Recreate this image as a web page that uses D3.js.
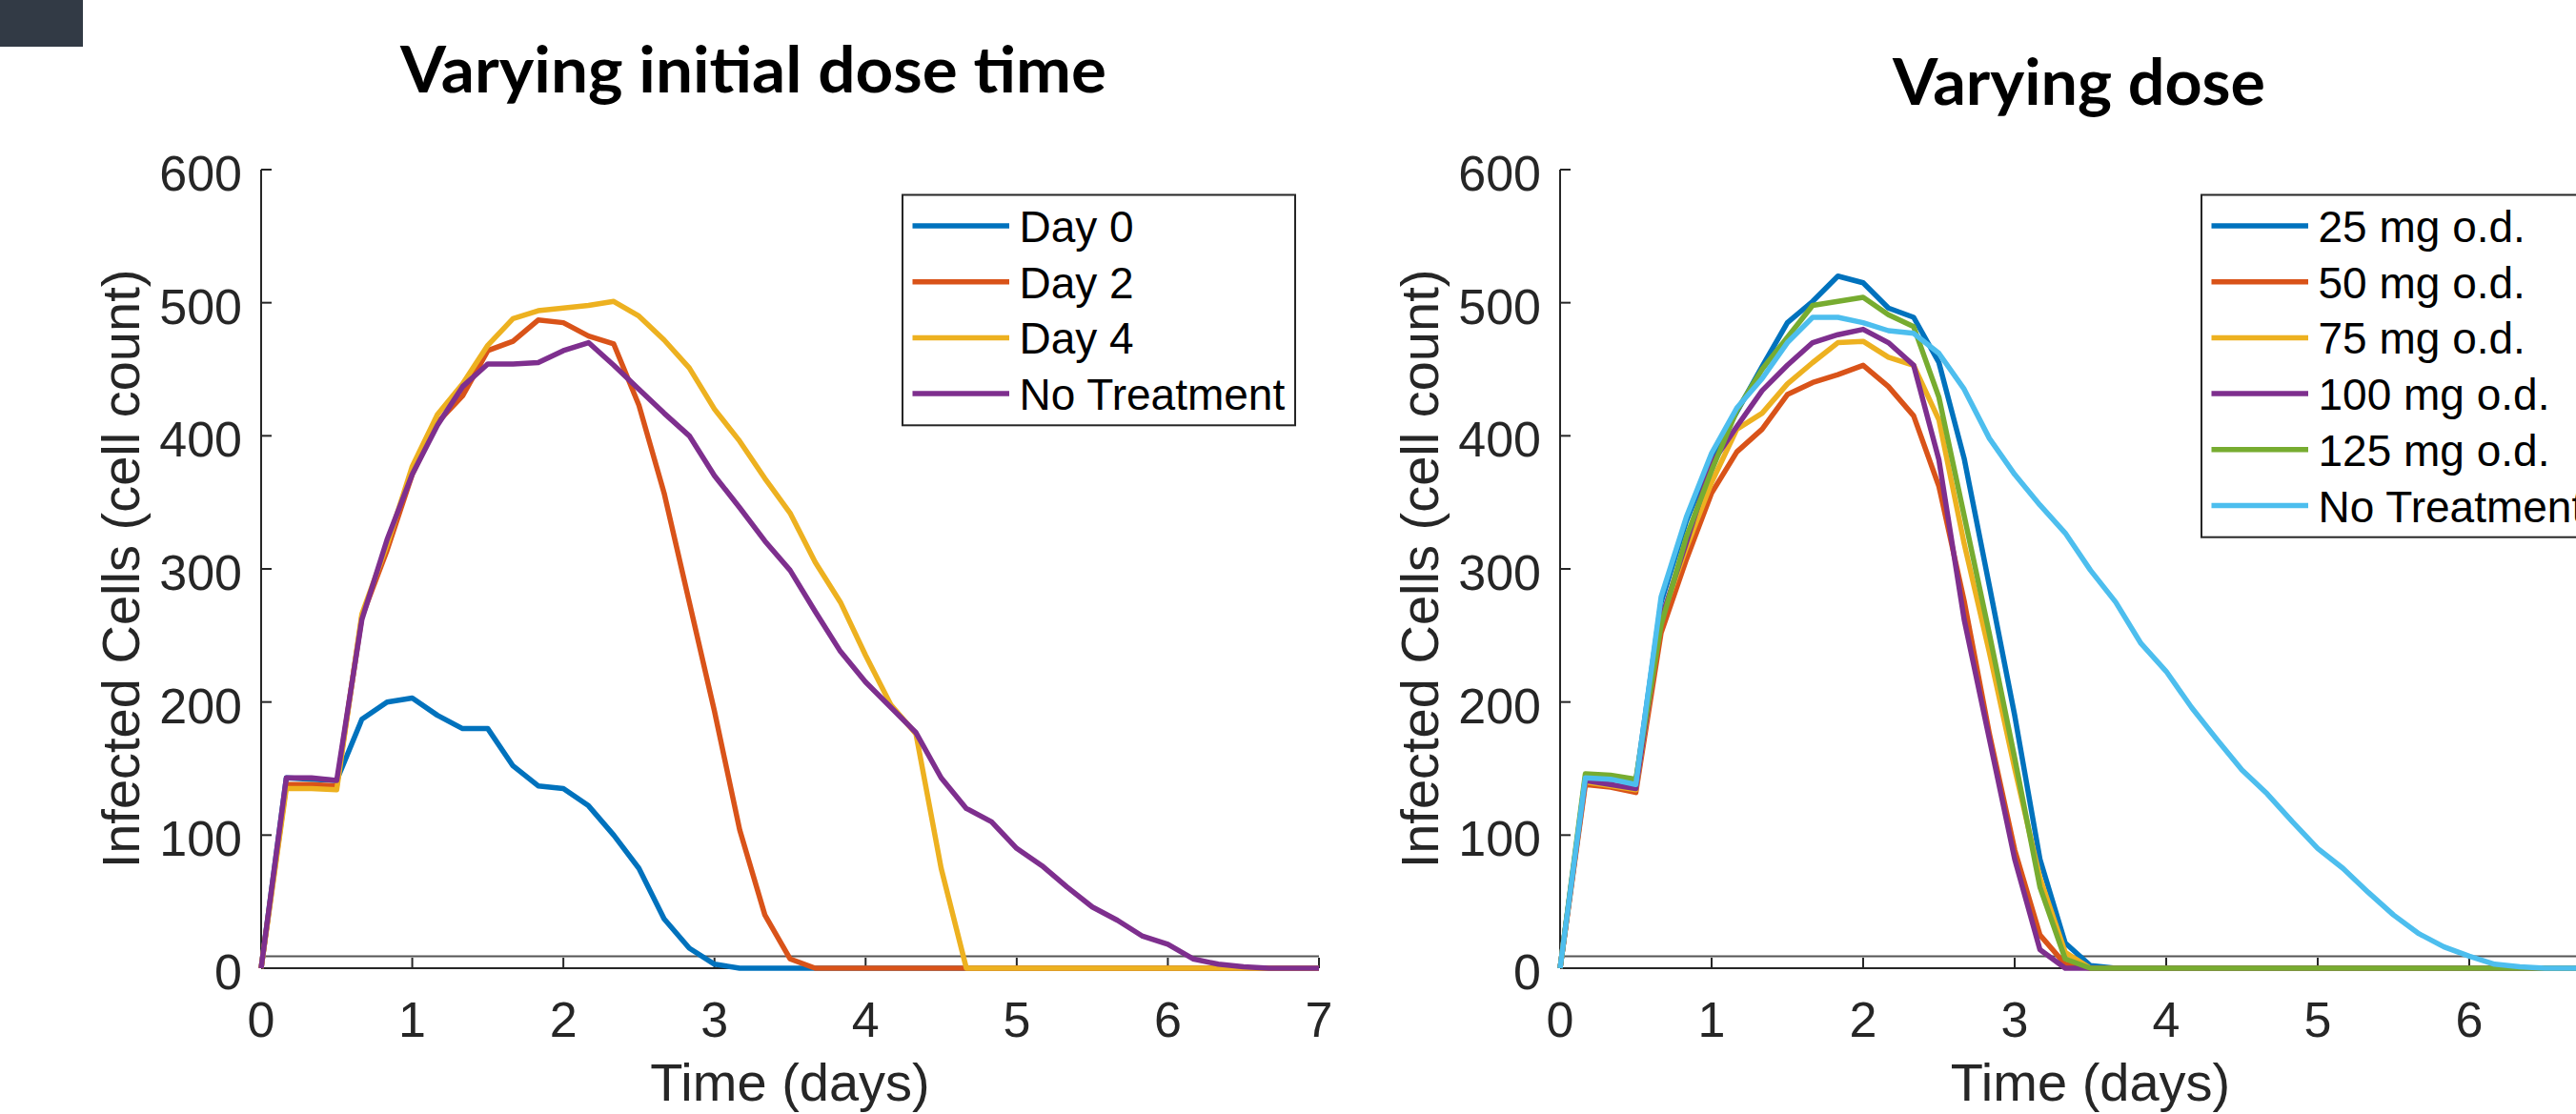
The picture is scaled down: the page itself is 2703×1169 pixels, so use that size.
<!DOCTYPE html>
<html><head><meta charset="utf-8">
<script src="https://cdn.jsdelivr.net/npm/d3@7"></script>
<style>html,body{margin:0;padding:0;background:#fff;overflow:hidden}</style>
</head><body><svg id="c" width="2703" height="1169"></svg>
<script>
// ---- data ----
const timeDays = [0,1/6,2/6,3/6,4/6,5/6,1,7/6,8/6,9/6,10/6,11/6,2,13/6,14/6,15/6,16/6,17/6,3,19/6,20/6,21/6,22/6,23/6,4,25/6,26/6,27/6,28/6,29/6,5,31/6,32/6,33/6,34/6,35/6,6,37/6,38/6,39/6,40/6,41/6,7];
const xTickValues = [0,1,2,3,4,5,6,7];
const yTickValues = [0,100,200,300,400,500,600];
const referenceLevel = 9;

const leftTitle = "Varying initial dose time";
const rightTitle = "Varying dose";
const xLabel = "Time (days)";
const yLabel = "Infected Cells (cell count)";

const leftNames = ["Day 0","Day 2","Day 4","No Treatment"];
const day0 = [0,143,142,141,187,200,203,190,180,180,152,137,135,122,100,75,37,15,3,0,0,0,0,0,0,0,0,0,0,0,0,0,0,0,0,0,0,0,0,0,0,0,0];
const day2 = [0,138,138,137,264,314,371,410,430,464,471,487,485,475,469,423,357,275,193,104,40,7,0,0,0,0,0,0,0,0,0,0,0,0,0,0,0,0,0,0,0,0,0];
const day4 = [0,135,135,134,266,318,377,416,439,468,488,494,496,498,501,490,472,451,420,396,368,342,305,275,235,198,176,75,0,0,0,0,0,0,0,0,0,0,0,0,0,0,0];
const noTreatLeft = [0,143,143,141,262,322,371,408,437,454,454,455,464,470,453,435,417,400,370,346,321,299,268,238,215,196,177,143,120,110,90,77,61,46,36,24,18,7,3,1,0,0,0];

const rightNames = ["25 mg o.d.","50 mg o.d.","75 mg o.d.","100 mg o.d.","125 mg o.d.","No Treatment"];
const dose25 = [0,143,142,140,275,336,384,418,452,485,501,520,515,496,489,455,383,287,190,82,19,2,0,0,0,0,0,0,0,0,0,0,0,0,0,0,0,0,0,0,0,0,0];
const dose50 = [0,138,136,132,252,307,357,388,405,431,440,446,453,437,415,362,276,176,89,25,3,0,0,0,0,0,0,0,0,0,0,0,0,0,0,0,0,0,0,0,0,0,0];
const dose75 = [0,140,137,134,262,316,365,405,417,439,455,470,471,459,453,412,319,237,150,68,12,0,0,0,0,0,0,0,0,0,0,0,0,0,0,0,0,0,0,0,0,0,0];
const dose100 = [0,141,138,135,262,320,379,407,434,453,470,476,480,470,453,382,262,172,82,14,0,0,0,0,0,0,0,0,0,0,0,0,0,0,0,0,0,0,0,0,0,0,0];
const dose125 = [0,146,145,142,258,324,374,419,450,474,498,501,504,491,482,429,340,251,158,61,7,0,0,0,0,0,0,0,0,0,0,0,0,0,0,0,0,0,0,0,0,0,0];
const noTreatRight = [0,143,142,138,279,339,387,421,443,470,489,489,485,479,477,462,435,398,371,348,327,299,275,244,223,196,172,149,131,110,90,75,57,40,26,16,9,3,1,0,0,0,0];

const palette = ["#0072BD","#D95319","#EDB120","#7E2F8E","#77AC30","#4DBEEE"];

// ---- drawing ----
const svg = d3.select("#c");
svg.append("rect").attr("x",0).attr("y",0).attr("width",2703).attr("height",1169).attr("fill","#fff");
svg.append("rect").attr("x",0).attr("y",0).attr("width",87).attr("height",49).attr("fill","#323a45");

const FONT = "'Liberation Sans', Arial, Helvetica, sans-serif";
const AXC = "#262626";

function panel(cfg){
  const x = d3.scaleLinear().domain([0,7]).range([cfg.x0, cfg.x1]);
  const y = d3.scaleLinear().domain([0,600]).range([1016,178]);
  const g = svg.append("g");

  // title
  g.append("text").attr("x",cfg.titleX).attr("y",cfg.titleY)
    .attr("text-anchor","middle").attr("font-family","Lato, 'Open Sans', sans-serif")
    .attr("font-weight",700).attr("font-size",67).attr("fill","#000")
    .attr("textLength",cfg.titleLen).attr("lengthAdjust","spacingAndGlyphs")
    .text(cfg.title);

  // reference line
  g.append("line").attr("x1",x(0)).attr("x2",x(7)).attr("y1",y(referenceLevel)).attr("y2",y(referenceLevel))
    .attr("stroke","#555").attr("stroke-width",2);

  // axes lines
  g.append("line").attr("x1",x(0)).attr("x2",x(7)).attr("y1",y(0)).attr("y2",y(0)).attr("stroke",AXC).attr("stroke-width",2);
  g.append("line").attr("x1",x(0)).attr("x2",x(0)).attr("y1",y(0)).attr("y2",y(600)).attr("stroke",AXC).attr("stroke-width",2);

  // ticks
  g.selectAll(".yt").data(yTickValues).enter().append("line")
    .attr("x1",x(0)).attr("x2",x(0)+11).attr("y1",d=>y(d)).attr("y2",d=>y(d)).attr("stroke",AXC).attr("stroke-width",2);
  g.selectAll(".xt").data(xTickValues).enter().append("line")
    .attr("x1",d=>x(d)).attr("x2",d=>x(d)).attr("y1",y(0)).attr("y2",y(0)-11).attr("stroke",AXC).attr("stroke-width",2);

  // tick labels
  g.selectAll(".yl").data(yTickValues).enter().append("text")
    .attr("x",x(0)-20).attr("y",d=>y(d)+22).attr("text-anchor","end")
    .attr("font-family",FONT).attr("font-size",52).attr("fill",AXC).text(d=>d);
  g.selectAll(".xl").data(xTickValues).enter().append("text")
    .attr("x",d=>x(d)).attr("y",1088).attr("text-anchor","middle")
    .attr("font-family",FONT).attr("font-size",52).attr("fill",AXC).text(d=>d);

  // axis labels
  g.append("text").attr("x",(x(0)+x(7))/2).attr("y",1155).attr("text-anchor","middle")
    .attr("font-family",FONT).attr("font-size",56).attr("fill",AXC).text(xLabel);
  g.append("text").attr("transform",`translate(${x(0)-128},597) rotate(-90)`).attr("text-anchor","middle")
    .attr("font-family",FONT).attr("font-size",56).attr("fill",AXC).text(yLabel);

  // series
  const line = d3.line().x((d,i)=>x(timeDays[i])).y(d=>y(d));
  cfg.series.forEach((s,k)=>{
    g.append("path").attr("d",line(s)).attr("fill","none").attr("stroke",palette[k])
      .attr("stroke-width",5.5).attr("stroke-linejoin","round").attr("stroke-linecap","butt");
  });

  // legend
  const lg = g.append("g");
  const rowGap = 58.7;
  lg.append("rect").attr("x",cfg.legX).attr("y",204.5).attr("width",cfg.legW)
    .attr("height",cfg.names.length*rowGap+7).attr("fill","#fff").attr("stroke",AXC).attr("stroke-width",2);
  cfg.names.forEach((n,k)=>{
    const ry = 237 + k*rowGap;
    lg.append("line").attr("x1",cfg.legX+10.5).attr("x2",cfg.legX+112).attr("y1",ry).attr("y2",ry)
      .attr("stroke",palette[k]).attr("stroke-width",5.5);
    lg.append("text").attr("x",cfg.legX+122.5).attr("y",ry+17).attr("font-family",FONT)
      .attr("font-size",46).attr("fill","#000").text(n);
  });
}

panel({x0:274,x1:1384,title:leftTitle,titleX:790.5,titleY:97,titleLen:741,
  series:[day0,day2,day4,noTreatLeft],names:leftNames,legX:947,legW:412});
panel({x0:1637,x1:2750,title:rightTitle,titleX:2181.5,titleY:110,titleLen:391,
  series:[dose25,dose50,dose75,dose100,dose125,noTreatRight],names:rightNames,legX:2310,legW:412});
</script></body></html>
